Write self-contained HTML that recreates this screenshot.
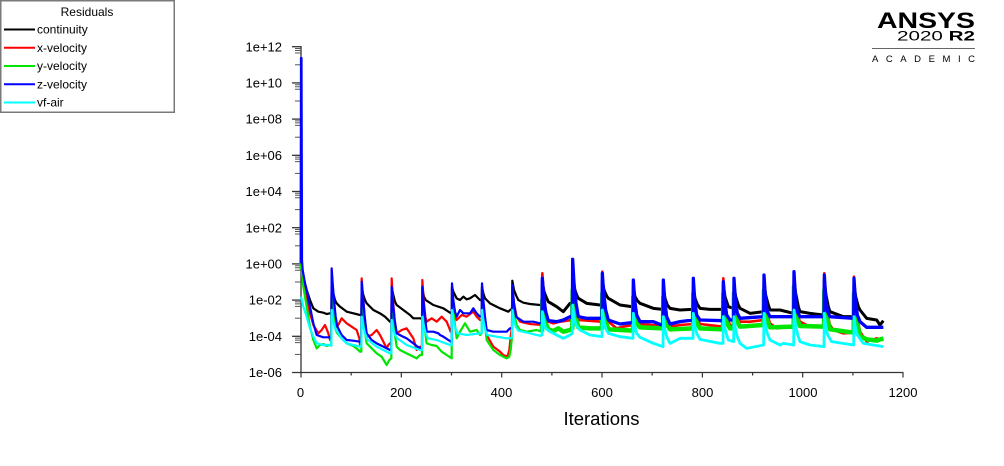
<!DOCTYPE html>
<html><head><meta charset="utf-8"><style>
html,body{margin:0;padding:0;background:#fff;}
svg{display:block;}
text{font-family:"Liberation Sans",Arial,sans-serif;}
</style></head><body>
<svg width="1004" height="466" viewBox="0 0 1004 466" xmlns="http://www.w3.org/2000/svg">
<rect width="1004" height="466" fill="#fff"/>
<!-- Legend -->
<rect x="0.75" y="0.75" width="173.5" height="111.5" fill="#fff" stroke="#7a7a7a" stroke-width="1.5"/>
<text x="87" y="16" font-size="12" text-anchor="middle" fill="#000">Residuals</text>
<g stroke-width="2">
<line x1="4" y1="29.5" x2="35" y2="29.5" stroke="#000"/>
<line x1="4" y1="47.8" x2="35" y2="47.8" stroke="#ff0000"/>
<line x1="4" y1="66" x2="35" y2="66" stroke="#00e600"/>
<line x1="4" y1="84.3" x2="35" y2="84.3" stroke="#0000ff"/>
<line x1="4" y1="102.5" x2="35" y2="102.5" stroke="#00ffff"/>
</g>
<g font-size="12" fill="#000">
<text x="37" y="33.5">continuity</text>
<text x="37" y="51.8">x-velocity</text>
<text x="37" y="70">y-velocity</text>
<text x="37" y="88.3">z-velocity</text>
<text x="37" y="106.5">vf-air</text>
</g>
<!-- ANSYS logo -->
<text x="877" y="28" font-size="22.5" font-weight="bold" textLength="98" lengthAdjust="spacingAndGlyphs" fill="#000">ANSYS</text>
<text x="897" y="40.3" font-size="14" textLength="78" lengthAdjust="spacingAndGlyphs" fill="#000">2020 <tspan font-weight="bold">R2</tspan></text>
<line x1="872" y1="48.5" x2="975" y2="48.5" stroke="#666" stroke-width="1"/>
<text x="872" y="62" font-size="9.5" textLength="103" lengthAdjust="spacing" fill="#000">ACADEMIC</text>
<!-- Axes -->
<g stroke="#333" stroke-width="1.3" fill="none">
<line x1="301" y1="46" x2="301" y2="372.5"/>
<line x1="292" y1="372.5" x2="903.5" y2="372.5"/>
<line x1="292" y1="46.7" x2="301" y2="46.7"/>
<line x1="292" y1="82.9" x2="301" y2="82.9"/>
<line x1="292" y1="119.1" x2="301" y2="119.1"/>
<line x1="292" y1="155.3" x2="301" y2="155.3"/>
<line x1="292" y1="191.5" x2="301" y2="191.5"/>
<line x1="292" y1="227.7" x2="301" y2="227.7"/>
<line x1="292" y1="263.9" x2="301" y2="263.9"/>
<line x1="292" y1="300.1" x2="301" y2="300.1"/>
<line x1="292" y1="336.3" x2="301" y2="336.3"/>
</g>
<g stroke="#555" stroke-width="1" fill="none">
<line x1="295" y1="64.8" x2="301" y2="64.8"/>
<line x1="295" y1="101" x2="301" y2="101"/>
<line x1="295" y1="137.2" x2="301" y2="137.2"/>
<line x1="295" y1="173.4" x2="301" y2="173.4"/>
<line x1="295" y1="209.6" x2="301" y2="209.6"/>
<line x1="295" y1="245.8" x2="301" y2="245.8"/>
<line x1="295" y1="282" x2="301" y2="282"/>
<line x1="295" y1="318.2" x2="301" y2="318.2"/>
<line x1="295" y1="354.4" x2="301" y2="354.4"/>
<path d="M295 48.5H301M295 50.5H301M295 53H301 M295 84.7H301M295 86.7H301M295 89.2H301 M295 120.9H301M295 122.9H301M295 125.4H301 M295 157.1H301M295 159.1H301M295 161.6H301 M295 193.3H301M295 195.3H301M295 197.8H301 M295 229.5H301M295 231.5H301M295 234H301 M295 265.7H301M295 267.7H301M295 270.2H301 M295 301.9H301M295 303.9H301M295 306.4H301 M295 338.1H301M295 340.1H301M295 342.6H301"/>
</g>
<g stroke="#333" stroke-width="1.2">
<line x1="301" y1="372.5" x2="301" y2="377.5"/>
<line x1="401.3" y1="372.5" x2="401.3" y2="377.5"/>
<line x1="501.7" y1="372.5" x2="501.7" y2="377.5"/>
<line x1="602" y1="372.5" x2="602" y2="377.5"/>
<line x1="702.4" y1="372.5" x2="702.4" y2="377.5"/>
<line x1="802.7" y1="372.5" x2="802.7" y2="377.5"/>
<line x1="903" y1="372.5" x2="903" y2="377.5"/>
<line x1="351.2" y1="372.5" x2="351.2" y2="375.5"/>
<line x1="451.5" y1="372.5" x2="451.5" y2="375.5"/>
<line x1="551.9" y1="372.5" x2="551.9" y2="375.5"/>
<line x1="652.2" y1="372.5" x2="652.2" y2="375.5"/>
<line x1="752.6" y1="372.5" x2="752.6" y2="375.5"/>
<line x1="852.9" y1="372.5" x2="852.9" y2="375.5"/>
</g>
<g font-size="13" text-anchor="end" fill="#000">
<text x="282" y="51.3">1e+12</text>
<text x="282" y="87.5">1e+10</text>
<text x="282" y="123.7">1e+08</text>
<text x="282" y="159.9">1e+06</text>
<text x="282" y="196.1">1e+04</text>
<text x="282" y="232.3">1e+02</text>
<text x="282" y="268.5">1e+00</text>
<text x="282" y="304.7">1e-02</text>
<text x="282" y="340.9">1e-04</text>
<text x="282" y="377.1">1e-06</text>
</g>
<g font-size="13" text-anchor="middle" fill="#000">
<text x="300.5" y="397">0</text>
<text x="401" y="397">200</text>
<text x="501.5" y="397">400</text>
<text x="602" y="397">600</text>
<text x="702.5" y="397">800</text>
<text x="803" y="397">1000</text>
<text x="903" y="397">1200</text>
</g>
<text x="601.5" y="425" font-size="18.5" text-anchor="middle" fill="#000">Iterations</text>

<!-- Data -->
<g transform="translate(280,250) scale(0.333333)" fill="none" stroke-linejoin="round">
<!-- continuity -->
<polyline vector-effect="non-scaling-stroke" stroke="#000" stroke-width="2.2" points="62,42 63,45 70,80 80,120 90,150 100,175 115,185 130,188 140,192 150,190 154,192 155,105 160,130 165,150 170,160 180,170 200,185 220,190 240,195 244,196 245,110 250,135 255,150 260,160 280,180 300,190 315,200 330,215 334,214 335,110 340,135 345,155 350,165 370,180 390,195 400,205 420,205 426,206 427,115 432,140 437,150 440,152 460,165 490,175 510,188 515,190 516,110 520,125 525,135 530,145 540,150 550,140 560,148 570,145 585,135 600,150 605,152 606,110 610,130 615,145 620,150 630,160 660,175 685,185 690,180 696,176 697,92 702,120 710,140 715,150 730,158 750,162 780,165 786,166"/>
<polyline vector-effect="non-scaling-stroke" stroke="#000" stroke-width="3" points="786,166 787,95 792,125 800,145 805,155 830,170 850,185 870,160 877,160 878,80 883,115 890,135 895,145 920,160 960,165 966,166 967,90 972,120 980,138 985,145 1020,165 1055,170 1059,170 1060,110 1065,140 1072,152 1080,160 1120,175 1149,178 1150,110 1155,145 1162,165 1170,175 1200,180 1235,178 1239,178 1240,110 1245,145 1252,163 1260,175 1290,178 1320,178 1329,178 1330,105 1335,140 1345,170 1360,175 1361,175 1362,105 1367,140 1375,165 1380,175 1410,190 1450,185 1451,185 1452,95 1457,135 1465,165 1470,180 1500,180 1540,190 1541,190 1542,85 1547,130 1555,170 1560,185 1590,190 1630,195 1632,195 1633,90 1638,135 1645,170 1650,185 1690,200 1721,200 1722,100 1727,140 1735,170 1740,180 1760,205 1790,210 1800,225 1810,212"/>
<!-- x-velocity -->
<polyline vector-effect="non-scaling-stroke" stroke="#ff0000" stroke-width="2.2" points="63,40 70,90 80,140 90,190 100,225 115,250 125,240 135,225 145,250 150,270 154,272 155,60 158,110 162,160 167,210 172,230 180,215 185,205 195,215 200,220 215,230 230,240 238,265 240,285 244,285 245,85 249,140 254,200 260,260 275,255 290,240 300,255 310,275 320,295 325,285 330,280 334,285 335,85 339,150 344,210 350,250 365,240 380,235 390,250 400,265 410,300 420,290 426,290 427,90 431,150 436,200 440,215 455,205 470,215 485,200 500,215 508,235 512,245 515,245 516,110 520,160 525,200 530,210 545,195 560,200 580,185 590,200 600,210 605,210 606,110 610,160 615,210 620,255 640,290 660,305 670,315 682,320 688,300 692,260 696,230 697,105 702,160 710,200 720,215 750,222 786,225"/>
<polyline vector-effect="non-scaling-stroke" stroke="#ff0000" stroke-width="2.6" points="786,225 787,70 791,130 797,180 805,215 820,220 840,215 860,212 877,210 878,30 882,100 888,160 895,210 966,215 967,65 971,130 977,185 985,215 1010,235 1030,230 1059,225 1060,95 1064,150 1070,200 1080,222 1149,228 1150,95 1154,150 1160,200 1170,230 1200,225 1239,222 1240,90 1244,150 1250,200 1260,222 1329,230 1330,85 1334,150 1340,200 1350,225 1361,228 1362,90 1366,150 1372,195 1380,215 1410,215 1451,210 1452,80 1456,145 1462,195 1470,220 1490,235 1530,230 1541,230 1542,70 1546,145 1552,195 1560,215 1590,230 1632,232 1633,70 1637,145 1643,195 1650,225 1660,240 1690,250 1721,248 1722,80 1726,150 1732,200 1740,245 1760,275 1790,265 1810,270"/>
<!-- y-velocity -->
<polyline vector-effect="non-scaling-stroke" stroke="#00e600" stroke-width="2.2" points="62,60 63,-321 64,-321 65,40 66,70 70,110 80,170 90,230 100,270 110,295 120,285 130,282 140,288 150,285 154,287 155,80 158,140 162,200 167,240 172,250 185,265 200,280 220,288 235,300 240,305 244,305 245,120 249,180 254,240 260,280 275,295 290,310 305,320 320,345 328,330 334,325 335,120 339,190 344,250 350,290 360,300 380,310 400,320 410,325 420,315 426,315 427,120 431,190 436,250 440,280 455,285 470,288 485,305 500,315 515,325 516,120 520,180 525,225 530,265 540,245 555,220 570,245 590,240 600,255 605,250 606,120 610,180 615,225 620,270 640,300 660,315 680,325 688,320 692,300 696,260 697,130 702,190 710,225 720,240 740,245 770,240 786,245"/>
<polyline vector-effect="non-scaling-stroke" stroke="#00e600" stroke-width="4.5" points="786,245 787,150 791,190 797,220 805,238 820,243 835,235 850,245 870,240 877,235 878,120 882,170 888,205 895,232 930,235 966,235 967,130 971,180 977,215 985,238 1059,242 1060,140 1064,190 1070,220 1080,232 1149,235 1150,140 1154,190 1160,222 1170,238 1239,235 1240,130 1244,180 1250,218 1260,235 1329,238 1330,130 1334,180 1340,218 1350,235 1361,235 1362,130 1366,180 1372,215 1380,230 1451,225 1452,120 1456,175 1462,212 1470,232 1541,230 1542,110 1546,170 1552,208 1560,228 1632,230 1633,120 1637,175 1643,212 1650,238 1721,248 1722,130 1726,180 1732,222 1740,258 1760,268 1790,272 1810,265"/>
<!-- z-velocity -->
<polyline vector-effect="non-scaling-stroke" stroke="#0000ff" stroke-width="2.2" points="62,40 63,-576 64.5,-576 66,30 68,60 75,100 80,120 90,170 100,220 110,255 130,262 150,262 154,265 155,55 158,100 162,150 167,200 172,230 185,255 200,270 220,272 240,275 244,278 245,95 249,140 254,200 260,250 275,270 290,280 310,290 330,300 334,300 335,110 339,160 344,210 350,250 365,258 380,265 400,280 420,295 426,295 427,110 431,160 436,210 440,245 460,245 475,250 480,255 490,260 505,270 513,275 515,280 516,100 520,150 525,185 530,200 540,180 550,190 570,190 580,175 590,190 600,200 605,200 606,100 610,150 615,200 620,240 640,245 680,245 690,235 696,235 697,105 702,160 708,200 715,205 730,215 760,215 780,220 786,218"/>
<polyline vector-effect="non-scaling-stroke" stroke="#0000ff" stroke-width="3.3" points="786,218 787,85 791,140 797,185 805,212 830,215 850,210 870,200 877,205 878,28 882,100 888,160 895,200 920,205 966,205 967,70 971,130 977,180 985,210 1020,222 1055,218 1059,218 1060,90 1064,150 1070,195 1080,215 1120,215 1145,225 1149,225 1150,90 1154,150 1160,200 1170,222 1200,215 1239,210 1240,85 1244,150 1250,195 1260,210 1329,212 1330,95 1334,150 1340,195 1350,210 1361,210 1362,85 1366,150 1372,190 1380,205 1451,200 1452,75 1456,140 1462,185 1470,200 1541,200 1542,65 1546,140 1552,185 1560,200 1632,200 1633,75 1637,145 1643,185 1650,200 1721,205 1722,85 1726,150 1732,195 1740,215 1760,232 1810,232"/>
<!-- vf-air -->
<polyline vector-effect="non-scaling-stroke" stroke="#00ffff" stroke-width="2.2" points="63,140 70,170 80,200 90,235 100,260 110,280 130,285 150,285 154,287 155,180 159,210 165,235 172,245 185,265 200,280 220,285 240,290 244,290 245,200 249,225 255,250 262,268 290,290 310,300 330,310 334,310 335,210 339,235 345,255 352,265 380,285 420,300 426,300 427,200 431,225 437,250 444,265 470,270 510,285 515,285 516,180 520,210 526,235 532,250 560,255 600,250 605,250 606,180 610,210 616,240 622,255 650,260 680,265 690,265 696,262 697,180 701,205 707,230 715,242 750,250 770,255 786,258"/>
<polyline vector-effect="non-scaling-stroke" stroke="#00ffff" stroke-width="2.8" points="786,258 787,185 791,210 797,235 810,245 850,265 870,255 877,250 878,165 882,200 888,225 900,240 930,255 966,260 967,180 971,210 977,235 985,250 1020,260 1059,265 1060,190 1064,225 1070,250 1080,262 1120,280 1149,290 1150,200 1154,235 1160,260 1170,280 1200,265 1239,265 1240,190 1244,225 1250,250 1260,268 1320,280 1329,280 1330,200 1334,230 1340,255 1345,270 1361,275 1362,200 1366,235 1372,260 1380,280 1400,295 1451,285 1452,190 1456,225 1462,250 1470,270 1500,285 1510,280 1541,285 1542,180 1546,220 1552,250 1560,275 1590,285 1632,290 1633,190 1637,225 1643,255 1655,275 1721,285 1722,200 1726,230 1732,255 1750,280 1810,290"/>
</g>
</svg>
</body></html>
